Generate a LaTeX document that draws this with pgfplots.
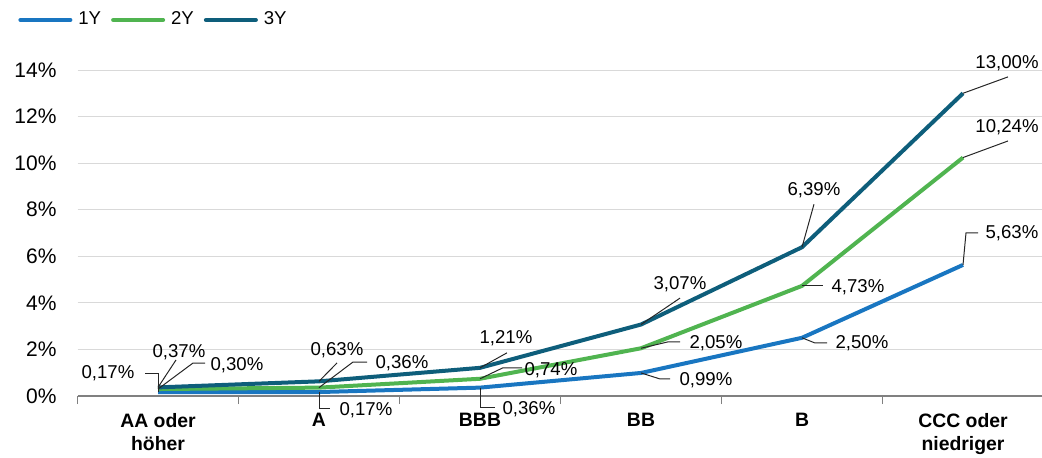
\documentclass[border=0pt]{standalone}
\usepackage{pgfplots}
\pgfplotsset{compat=1.18}
\usepackage{fontspec}
\setmainfont{Liberation Sans}
\definecolor{c1}{RGB}{25,118,193}
\definecolor{c2}{RGB}{80,180,80}
\definecolor{c3}{RGB}{14,94,123}
\definecolor{gridc}{RGB}{217,217,217}
\definecolor{axc}{RGB}{128,128,128}
\begin{document}
\begin{tikzpicture}[lbl/.style={inner sep=0pt, font=\fontsize{9.3}{11}\selectfont}, ld/.style={black!85, line width=0.5pt}]
\begin{axis}[
  at={(0,0)}, anchor=south west,
  scale only axis, width=483pt, height=163pt,
  xmin=-0.5, xmax=5.5, ymin=0, ymax=14,
  clip=false,
  axis x line*=bottom, axis y line*=left,
  y axis line style={draw=none},
  x axis line style={axc, line width=0.6pt},
  ytick={0,2,...,14},
  yticklabels={0\%,2\%,4\%,6\%,8\%,10\%,12\%,14\%},
  ymajorgrids, major grid style={gridc, line width=0.5pt},
  xtick={0,...,5},
  xticklabels={{AA oder\\höher},A,BBB,BB,B,{CCC oder\\niedriger}},
  major tick length=0pt,
  minor xtick={-0.5,0.5,...,4.5},
  minor tick length=4pt,
  tick align=outside,
  minor tick style={axc, line width=0.6pt},
  tick label style={font=\fontsize{10.5}{12}\selectfont},
  xticklabel style={font=\bfseries\fontsize{9.7}{11.8}\selectfont, align=center, yshift=-5pt},
  yticklabel style={xshift=-7pt},
  legend style={at={(-0.0616,1.1534)}, anchor=west, draw=none, fill=none, inner sep=0pt,
    nodes={inner sep=0pt}, font=\fontsize{9.3}{11}\selectfont, legend columns=-1,
    /tikz/every odd column/.append style={column sep=3pt},
    /tikz/every even column/.append style={column sep=5pt}},
  legend image code/.code={\draw[#1, line width=2pt, line cap=round] (1pt,0pt) -- (26pt,0pt);},
]
\addplot[c1, line width=2pt, line join=round] coordinates {(0,0.17)(1,0.17)(2,0.36)(3,0.99)(4,2.50)(5,5.63)};
\addlegendentry{1Y}
\addplot[c2, line width=2pt, line join=round] coordinates {(0,0.30)(1,0.36)(2,0.74)(3,2.05)(4,4.73)(5,10.24)};
\addlegendentry{2Y}
\addplot[c3, line width=2pt, line join=round] coordinates {(0,0.37)(1,0.63)(2,1.21)(3,3.07)(4,6.39)(5,13.00)};
\addlegendentry{3Y}
% AA
\draw[ld] (axis cs:0,0.17) -- ++(0pt,9.5pt) -- ++(-6.5pt,0pt);
\path (axis cs:0,0.17) ++(-25pt,9.5pt) node[lbl]{0,17\%};
\draw[ld] (axis cs:0,0.30) -- ++(17.5pt,13pt) -- ++(6pt,0pt);
\path (axis cs:0,0.30) ++(39.5pt,12pt) node[lbl]{0,30\%};
\draw[ld] (axis cs:0,0.37) -- ++(9pt,13.7pt);
\path (axis cs:0,0.37) ++(10.5pt,17.7pt) node[lbl]{0,37\%};
% A
\draw[ld] (axis cs:1,0.17) -- ++(0pt,-8pt) -- ++(5.5pt,0pt);
\path (axis cs:1,0.17) ++(23.5pt,-9pt) node[lbl]{0,17\%};
\draw[ld] (axis cs:1,0.36) -- ++(17pt,12.8pt) -- ++(7pt,0pt);
\path (axis cs:1,0.36) ++(41.5pt,12.3pt) node[lbl]{0,36\%};
\draw[ld] (axis cs:1,0.63) -- ++(9pt,9.2pt);
\path (axis cs:1,0.63) ++(9pt,15.7pt) node[lbl]{0,63\%};
% BBB
\draw[ld] (axis cs:2,0.36) -- ++(0pt,-9.7pt) -- ++(7.5pt,0pt);
\path (axis cs:2,0.36) ++(24.5pt,-10.7pt) node[lbl]{0,36\%};
\draw[ld] (axis cs:2,0.74) -- ++(11.5pt,5.5pt) -- ++(9.5pt,0pt);
\path (axis cs:2,0.74) ++(35.5pt,4.4pt) node[lbl]{0,74\%};
\draw[ld] (axis cs:2,1.21) -- ++(13.5pt,7.5pt);
\path (axis cs:2,1.21) ++(13pt,14.9pt) node[lbl]{1,21\%};
% BB
\draw[ld] (axis cs:3,0.99) -- ++(9.5pt,-3pt) -- ++(5pt,0pt);
\path (axis cs:3,0.99) ++(32.5pt,-3.5pt) node[lbl]{0,99\%};
\draw[ld] (axis cs:3,2.05) -- ++(13.5pt,3.2pt) -- ++(6pt,0pt);
\path (axis cs:3,2.05) ++(37.5pt,2.6pt) node[lbl]{2,05\%};
\draw[ld] (axis cs:3,3.07) -- ++(19.5pt,13.2pt);
\path (axis cs:3,3.07) ++(19.5pt,20.2pt) node[lbl]{3,07\%};
% B
\draw[ld] (axis cs:4,2.50) -- ++(6.5pt,-2.6pt) -- ++(6pt,0pt);
\path (axis cs:4,2.50) ++(30pt,-2.6pt) node[lbl]{2,50\%};
\draw[ld] (axis cs:4,4.73) -- ++(10.5pt,0pt);
\path (axis cs:4,4.73) ++(28pt,-0.5pt) node[lbl]{4,73\%};
\draw[ld] (axis cs:4,6.39) -- ++(6pt,21.5pt);
\path (axis cs:4,6.39) ++(6pt,28.5pt) node[lbl]{6,39\%};
% CCC
\draw[ld] (axis cs:5,5.63) -- ++(1.5pt,16pt) -- ++(6pt,0pt);
\path (axis cs:5,5.63) ++(24.5pt,16pt) node[lbl]{5,63\%};
\draw[ld] (axis cs:5,10.24) -- ++(22.5pt,8.3pt);
\path (axis cs:5,10.24) ++(22pt,15.3pt) node[lbl]{10,24\%};
\draw[ld] (axis cs:5,13.00) -- ++(22.5pt,8.2pt);
\path (axis cs:5,13.00) ++(22pt,15.2pt) node[lbl]{13,00\%};
\end{axis}
\pgfresetboundingbox
\path[use as bounding box] (-38.75pt,-30.5pt) rectangle (482.25pt,198pt);
\end{tikzpicture}
\end{document}
